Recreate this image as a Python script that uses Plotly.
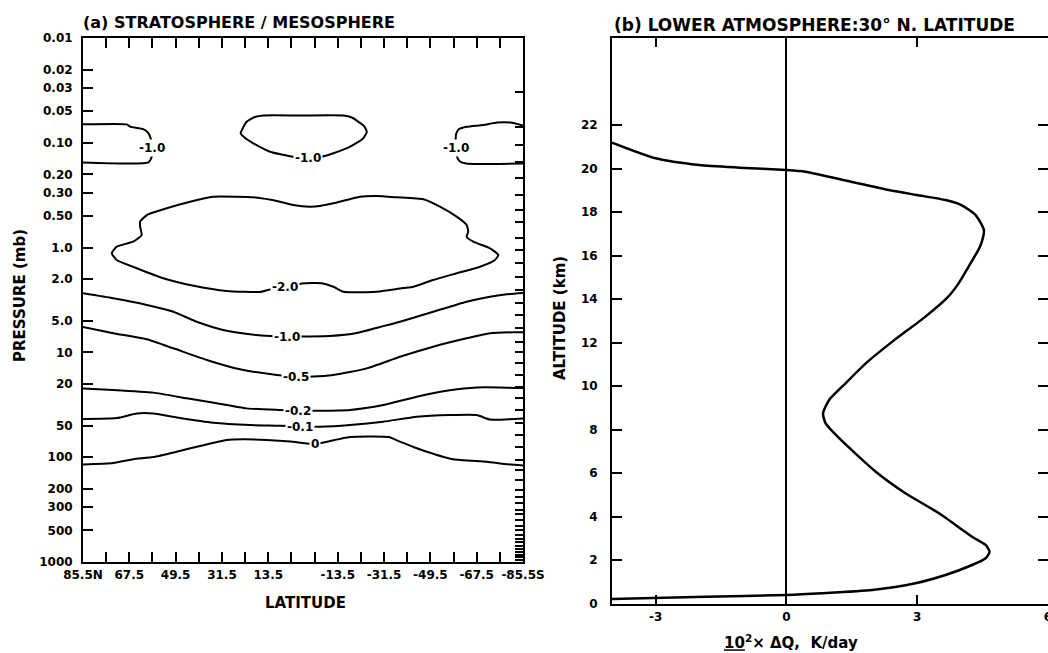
import math
import plotly.graph_objects as go

W, H = 1048, 653

# ---------------- (a) zonal-mean heating-rate change contours ----------------
# latitude (deg, + = north) and pressure (mb) along each contour
c1_lat = [85.5, 68.5, 67.2, 62.1, 60.1, 59.2, 58.8, 58.8, 60.1, 85.5]
c1_p = [0.0667, 0.0667, 0.070, 0.074, 0.081, 0.091, 0.112, 0.136, 0.154, 0.154]

c2_lat = [24.2, 21.9, 18.7, 15.4, 1.2, -15.7, -19.0, -21.5, -23.7, -24.8, -23.4, -18.3,
          -11.8, -7.3, -2.3, 3.8, 12.8, 19.3, 22.5, 24.2]
c2_p = [0.0812, 0.0629, 0.0567, 0.0549, 0.0549, 0.0549, 0.0574, 0.0629, 0.0691, 0.0783,
        0.0906, 0.109, 0.126, 0.1357, 0.1396, 0.1357, 0.1216, 0.1011, 0.090, 0.0812]

c3_lat = [-85.5, -80.6, -75.4, -70.0, -63.7, -60.6, -59.5, -59.3, -59.3, -59.7, -61.0,
          -63.4, -68.8, -85.5]
c3_p = [0.0684, 0.0640, 0.0640, 0.0676, 0.0702, 0.0739, 0.0825, 0.0983, 0.112, 0.1336,
        0.1508, 0.1576, 0.1594, 0.1576]

c4_lat = [74.3, 72.4, 66.0, 62.7, 63.3, 63.3, 60.7, 53.0, 43.9, 34.9, 25.8, 19.3, 8.9, 3.8,
          -2.7, -6.6, -11.8, -22.2, -28.6, -36.4, -46.8, -53.2, -59.7, -63.6, -64.2, -63.6,
          -66.2, -72.7, -75.9, -74.6, -68.8, -59.7, -50.6, -42.9, -39.0, -28.6, -15.7, -11.8,
          -7.3, 0.4, 7.0, 13.6, 16.7, 29.7, 42.0, 54.3, 64.6, 72.4, 74.3]
c4_p = [1.134, 0.980, 0.878, 0.758, 0.632, 0.566, 0.489, 0.422, 0.365, 0.327, 0.327, 0.331,
        0.365, 0.392, 0.407, 0.401, 0.378, 0.327, 0.322, 0.331, 0.346, 0.407, 0.507, 0.609,
        0.705, 0.787, 0.878, 1.016, 1.177, 1.313, 1.521, 1.759, 2.038, 2.361, 2.43, 2.636,
        2.636, 2.361, 2.191, 2.200, 2.40, 2.539, 2.653, 2.595, 2.33, 1.963, 1.576, 1.313, 1.134]

c5_lat = [85.5, 73.7, 60.7, 50.4, 41.3, 31.0, 18.0, 12.8, 6.2, -0.8, -10.5, -20.9, -29.9,
          -37.7, -50.6, -63.6, -72.7, -78.5, -85.5]
c5_p = [2.73, 3.05, 3.53, 4.09, 5.10, 6.11, 6.82, 6.97, 7.1, 7.05, 6.97, 6.53, 5.72, 5.10,
        4.09, 3.28, 2.94, 2.80, 2.71]

c6_lat = [85.5, 73.7, 60.7, 50.4, 37.4, 24.5, 10.2, 2.7, -4.0, -11.8, -24.8, -37.7, -50.6,
          -63.6, -72.7, -81.7, -85.5]
c6_p = [5.72, 6.57, 7.50, 9.14, 11.8, 14.5, 16.4, 17.0, 17.0, 16.4, 14.2, 11.0, 8.82, 7.34,
        6.57, 6.43, 6.43]

c7_lat = [85.5, 73.7, 58.2, 45.2, 33.5, 21.9, 9.7, 1.9, -5.4, -18.3, -31.2, -44.2, -57.1,
          -67.5, -76.6, -85.5]
c7_p = [22.1, 22.8, 24.2, 27.4, 30.6, 34.2, 35.4, 35.9, 36.0, 35.4, 31.8, 26.5, 23.0, 21.6,
        21.6, 21.9]

c8_lat = [85.5, 72.4, 64.6, 58.2, 47.8, 34.9, 20.6, 8.9, 1.2, -6.6, -18.3, -31.2, -44.2,
          -57.1, -67.5, -72.7, -85.5]
c8_p = [43.2, 42.3, 38.3, 38.3, 42.3, 46.9, 49.3, 50.0, 51.0, 51.2, 49.3, 45.8, 41.1, 39.6,
        39.6, 43.7, 42.7]

c9_lat = [85.5, 73.7, 66.0, 58.2, 49.1, 40.0, 29.7, 23.2, 14.1, 5.0, -4.7, -7.9, -18.3,
          -33.2, -37.7, -42.9, -48.1, -58.4, -71.4, -78.5, -85.5]
c9_p = [117.4, 113.6, 104.7, 99.6, 88.6, 78.2, 68.5, 67.5, 68.5, 70.8, 75.0, 72.4, 64.2,
        64.2, 71.1, 79.9, 88.6, 104.7, 110.4, 116.1, 120.0]

contours = [(c1_lat, c1_p), (c2_lat, c2_p), (c3_lat, c3_p), (c4_lat, c4_p), (c5_lat, c5_p),
            (c6_lat, c6_p), (c7_lat, c7_p), (c8_lat, c8_p), (c9_lat, c9_p)]

# contour labels: text, latitude, pressure
label_text = ["-1.0", "-1.0", "-1.0", "-2.0", "-1.0", "-0.5", "-0.2", "-0.1", "0"]
label_lat = [58.7, -1.9, -59.3, 7.0, 6.2, 2.7, 1.9, 1.2, -4.7]
label_p = [0.112, 0.1396, 0.112, 2.40, 7.1, 17.0, 35.9, 51.0, 75.0]

# labelled latitude ticks, plus unlabelled ticks every 9 degrees
lat_ticks = [85.5, 67.5, 49.5, 31.5, 13.5, -13.5, -31.5, -49.5, -67.5, -85.5]
lat_ticktext = ["85.5N", "67.5", "49.5", "31.5", "13.5",
                "-13.5", "-31.5", "-49.5", "-67.5", "-85.5S"]
lat_minor = [76.5, 58.5, 40.5, 22.5, 4.5, -4.5, -22.5, -40.5, -58.5, -76.5]

p_ticks = [0.01, 0.02, 0.03, 0.05, 0.1, 0.2, 0.3, 0.5, 1, 2, 5, 10, 20, 50, 100, 200, 300, 500, 1000]
p_ticktext = ["0.01", "0.02", "0.03", "0.05", "0.10", "0.20", "0.30", "0.50", "1.0", "2.0",
              "5.0", "10", "20", "50", "100", "200", "300", "500", "1000"]

# model levels marked along the right-hand edge of panel (a)
model_levels = [0.033, 0.071, 0.105, 0.152, 0.217, 0.315, 0.44, 0.57, 0.81, 1.05, 1.40,
                1.91, 2.54, 3.39, 4.40, 5.85, 7.95, 9.9, 12.6, 16.4, 21.4, 27.2, 35.4,
                47.2, 61.6, 79.9, 106, 132, 165, 205, 240, 274, 318, 352, 400, 450, 500,
                550, 600, 650, 700, 750, 800, 850, 900, 950]

# ---------------- (b) profile at 30 N ----------------
dq = [-4.0, -3.0, -2.0, -1.08, 0.0, 0.44, 1.48, 2.35, 2.99, 3.65, 4.0, 4.34, 4.53, 4.47,
      4.40, 4.18, 3.95, 3.69, 3.19, 2.43, 1.82, 1.32, 0.98, 0.84, 0.90, 1.21, 2.05, 2.73,
      3.50, 4.26, 4.57, 4.66, 4.57, 4.26, 3.65, 2.96, 1.97, 0.82, 0.0, -1.85, -4.0]
alt = [21.19, 20.47, 20.16, 20.04, 19.93, 19.85, 19.39, 19.01, 18.78, 18.55, 18.33, 17.86,
       17.17, 16.56, 16.25, 15.49, 14.72, 14.06, 13.19, 12.04, 11.04, 10.05, 9.36, 8.74,
       8.28, 7.6, 6.06, 5.07, 4.15, 3.07, 2.69, 2.38, 2.08, 1.77, 1.31, 0.93, 0.62, 0.47,
       0.39, 0.31, 0.21]

dq_ticks = [-3, 0, 3, 6]
dq_ticktext = ["-3", "0", "3", "6"]
alt_ticks = [0, 2, 4, 6, 8, 10, 12, 14, 16, 18, 20, 22]

FONT = "DejaVu Sans"
tick_font = dict(family=FONT, size=12, color="black", weight="bold")


def px_x(px):
    return px / W


def px_y(py):
    return 1 - py / H


fig = go.Figure()

for lat, p in contours:
    fig.add_trace(go.Scatter(
        x=lat, y=p, xaxis="x", yaxis="y", mode="lines",
        line=dict(color="black", width=2, shape="spline", smoothing=0.5),
        hoverinfo="skip", showlegend=False))

# carrier trace for the right-hand level ticks
fig.add_trace(go.Scatter(x=[0], y=[1], xaxis="x", yaxis="y3", mode="markers",
                         marker=dict(opacity=0), hoverinfo="skip", showlegend=False))

fig.add_trace(go.Scatter(
    x=dq, y=alt, xaxis="x2", yaxis="y2", mode="lines",
    line=dict(color="black", width=2.5, shape="spline", smoothing=0.6),
    hoverinfo="skip", showlegend=False))

# contour labels sit on the lines (log axis: annotation y in decades)
for t, la, pr in zip(label_text, label_lat, label_p):
    fig.add_annotation(x=la, y=math.log10(pr), xref="x", yref="y", text=t, showarrow=False,
                       xanchor="center", yanchor="middle",
                       font=dict(family=FONT, size=12, color="black", weight="bold"),
                       bgcolor="white", borderpad=1)

left_dom_x = [px_x(83), px_x(523)]
left_dom_y = [px_y(562), px_y(38)]
right_dom_x = [px_x(612), 1.0]
right_dom_y = [px_y(603.5), px_y(38)]

axis_common = dict(showgrid=False, zeroline=False, showline=True, linecolor="black",
                   linewidth=2, ticks="inside", tickcolor="black", tickwidth=1.5,
                   tickfont=tick_font, automargin=False)

fig.update_layout(
    width=W, height=H,
    margin=dict(l=0, r=0, t=0, b=0, autoexpand=False),
    paper_bgcolor="white", plot_bgcolor="white",
    showlegend=False,
    xaxis=dict(axis_common, domain=left_dom_x, anchor="y", range=[85.5, -85.5],
               tickmode="array", tickvals=lat_ticks, ticktext=lat_ticktext,
               ticklen=10, mirror="ticks", ticklabelstandoff=1,
               minor=dict(tickmode="array", tickvals=lat_minor, ticks="inside",
                          ticklen=10, tickwidth=1.5, tickcolor="black", showgrid=False)),
    yaxis=dict(axis_common, domain=left_dom_y, anchor="x", type="log", range=[3, -2],
               tickmode="array", tickvals=p_ticks, ticktext=p_ticktext,
               ticklen=10, mirror=True, ticklabelstandoff=6),
    yaxis3=dict(overlaying="y", anchor="x", side="right", type="log", range=[3, -2],
                tickmode="array", tickvals=model_levels, ticks="inside", ticklen=8,
                tickwidth=1.5, tickcolor="black", showticklabels=False,
                showgrid=False, zeroline=False, showline=False, automargin=False),
    xaxis2=dict(axis_common, domain=right_dom_x, anchor="y2", range=[-4, 6],
                tickmode="array", tickvals=dq_ticks, ticktext=dq_ticktext,
                ticklen=9, mirror="ticks", ticklabeloverflow="allow",
                zeroline=True, zerolinecolor="black", zerolinewidth=1.5,
                ticklabelstandoff=1),
    yaxis2=dict(axis_common, domain=right_dom_y, anchor="x2", range=[0, 26],
                tickmode="array", tickvals=alt_ticks, ticklen=10, mirror="ticks",
                ticklabelstandoff=10),
)

title_font_a = dict(family=FONT, size=16, color="black", weight="bold")
title_font_b = dict(family=FONT, size=17, color="black", weight="bold")
label_font = dict(family=FONT, size=15, color="black", weight="bold")

fig.add_annotation(x=px_x(81), y=px_y(23), xref="paper", yref="paper", xanchor="left",
                   yanchor="middle", showarrow=False, font=title_font_a,
                   text="(a) STRATOSPHERE / MESOSPHERE")
fig.add_annotation(x=px_x(612), y=px_y(25), xref="paper", yref="paper", xanchor="left",
                   yanchor="middle", showarrow=False, font=title_font_b,
                   text="(b) LOWER ATMOSPHERE:30° N. LATITUDE")
fig.add_annotation(x=px_x(20), y=px_y(296), xref="paper", yref="paper", textangle=-90,
                   xanchor="center", yanchor="middle",
                   showarrow=False, font=label_font, text="PRESSURE (mb)")
fig.add_annotation(x=px_x(305), y=px_y(603), xref="paper", yref="paper",
                   xanchor="center", yanchor="middle",
                   showarrow=False, font=label_font, text="LATITUDE")
fig.add_annotation(x=px_x(560), y=px_y(318), xref="paper", yref="paper", textangle=-90,
                   xanchor="center", yanchor="middle",
                   showarrow=False, font=label_font, text="ALTITUDE (km)")
fig.add_annotation(x=px_x(791), y=px_y(642), xref="paper", yref="paper",
                   xanchor="center", yanchor="middle",
                   showarrow=False, font=label_font,
                   text="<u>10</u><sup>2</sup>× ΔQ,  K/day")

fig.write_html("out.html")
